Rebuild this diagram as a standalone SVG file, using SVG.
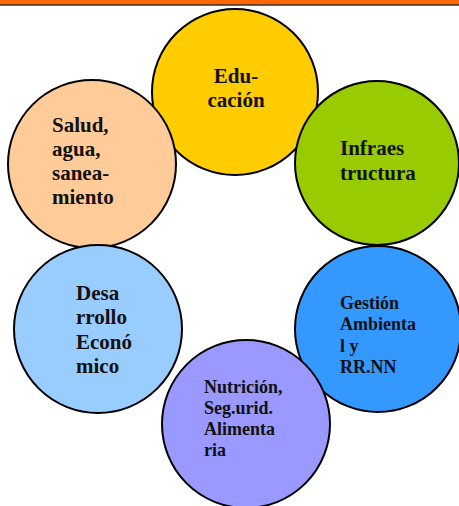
<svg xmlns="http://www.w3.org/2000/svg" width="459" height="506" viewBox="0 0 459 506">
<style>
.c{stroke:#000;stroke-width:2}
.t{font-family:"Liberation Serif","Times New Roman",serif;font-weight:bold;fill:#111}
.l{font-size:21px}
.s{font-size:18px}
</style>
<rect width="459" height="506" fill="#fff"/>
<rect x="0" y="0" width="459" height="5" fill="#FF6600"/>
<line x1="0" y1="5" x2="459" y2="5" stroke="#333" stroke-width="1.5"/>
<g id="connectors"/>
<g id="educacion">
<circle class="c" cx="235" cy="92" r="83" fill="#FFCC00"/>
<text class="t l" x="236" y="83" text-anchor="middle">Edu-</text>
<text class="t l" x="236" y="107" text-anchor="middle">cación</text>
</g>
<g id="salud">
<circle class="c" cx="92" cy="164" r="84" fill="#FFCC99"/>
<text class="t l" x="52" y="131.5">Salud,</text>
<text class="t l" x="52" y="155.5">agua,</text>
<text class="t l" x="52" y="179.5">sanea-</text>
<text class="t l" x="52" y="203.5">miento</text>
</g>
<g id="infraestructura">
<circle class="c" cx="377" cy="163" r="82" fill="#99CC00"/>
<text class="t l" x="340" y="155">Infraes</text>
<text class="t l" x="340" y="179.5">tructura</text>
</g>
<g id="gestion">
<circle class="c" cx="378" cy="329" r="83" fill="#3399FF"/>
<text class="t s" x="340" y="308.5">Gestión</text>
<text class="t s" x="340" y="330">Ambienta</text>
<text class="t s" x="340" y="351.5">l y</text>
<text class="t s" x="340" y="373">RR.NN</text>
</g>
<g id="desarrollo">
<circle class="c" cx="98" cy="329" r="84" fill="#99CCFF"/>
<text class="t l" x="76" y="299.5">Desa</text>
<text class="t l" x="76" y="324">rrollo</text>
<text class="t l" x="76" y="348.5">Econó</text>
<text class="t l" x="76" y="373">mico</text>
</g>
<g id="nutricion">
<circle class="c" cx="246" cy="424" r="84" fill="#9999FF"/>
<text class="t s" x="204" y="393">Nutrición,</text>
<text class="t s" x="204" y="414">Seg.urid.</text>
<text class="t s" x="204" y="435">Alimenta</text>
<text class="t s" x="204" y="456">ria</text>
</g>
</svg>
